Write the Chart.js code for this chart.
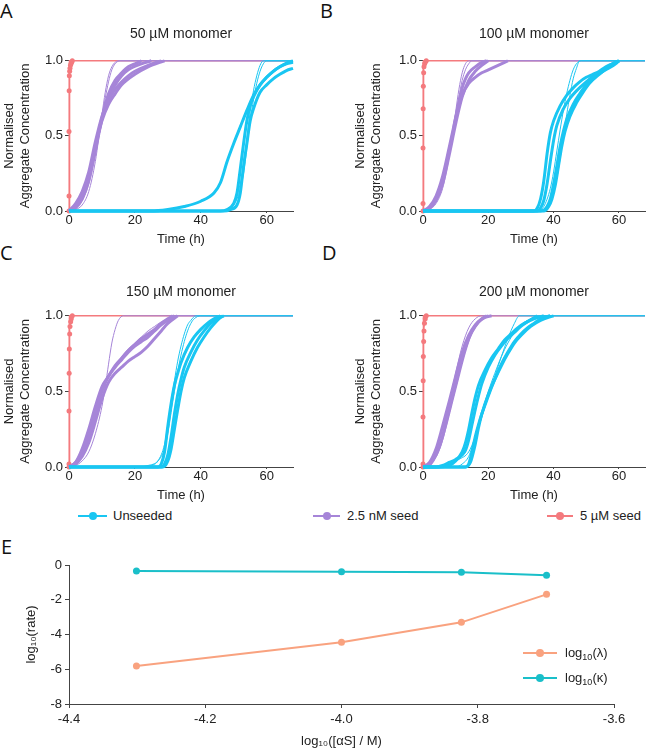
<!DOCTYPE html>
<html><head><meta charset="utf-8">
<script src="https://cdn.jsdelivr.net/npm/chart.js@4.4.0/dist/chart.umd.min.js"></script>
<style>
body{margin:0;background:#fff;width:649px;height:749px;position:relative;overflow:hidden;font-family:"Liberation Sans",Arial,sans-serif;color:#222;}
.pc{position:absolute;}
.lt{position:absolute;font-family:"Open Sans",sans-serif;font-size:20px;line-height:20px;color:#111;}
.ln{position:absolute;height:2px;}
.dt{position:absolute;width:8px;height:8px;border-radius:50%;}
.tx{position:absolute;font-size:13px;line-height:16px;white-space:nowrap;color:#222;}
.tx sub{font-size:9px;line-height:0;vertical-align:-3px;}
</style></head><body>
<div class="lt" style="left:0;top:1px">A</div>
<div class="lt" style="left:320px;top:1px">B</div>
<div class="lt" style="left:0;top:243px">C</div>
<div class="lt" style="left:322px;top:243px">D</div>
<div class="lt" style="left:1px;top:537px">E</div>

<div class="pc" style="left:0;top:20px;width:320px;height:230px"><canvas id="cA"></canvas></div>
<div class="pc" style="left:350px;top:20px;width:299px;height:230px"><canvas id="cB"></canvas></div>
<div class="pc" style="left:0;top:278px;width:320px;height:228px"><canvas id="cC"></canvas></div>
<div class="pc" style="left:350px;top:278px;width:299px;height:228px"><canvas id="cD"></canvas></div>
<div class="pc" style="left:0;top:550px;width:649px;height:199px"><canvas id="cE"></canvas></div>

<div class="ln" style="left:78px;top:515px;width:29px;background:#19c6f2"></div>
<div class="dt" style="left:89px;top:512px;background:#19c6f2"></div>
<div class="tx" style="left:113px;top:508px">Unseeded</div>
<div class="ln" style="left:313px;top:515px;width:27px;background:#a685d8"></div>
<div class="dt" style="left:323px;top:512px;background:#a685d8"></div>
<div class="tx" style="left:347px;top:508px">2.5 nM seed</div>
<div class="ln" style="left:547px;top:515px;width:26px;background:#f47a7e"></div>
<div class="dt" style="left:556px;top:512px;background:#f47a7e"></div>
<div class="tx" style="left:580px;top:508px">5 µM seed</div>

<div class="ln" style="left:523px;top:652px;width:34px;background:#f9a27f"></div>
<div class="dt" style="left:536px;top:649px;background:#f9a27f"></div>
<div class="tx" style="left:565px;top:645px">log<sub>10</sub>(λ)</div>
<div class="ln" style="left:523px;top:677px;width:34px;background:#1abfc9"></div>
<div class="dt" style="left:536px;top:674px;background:#1abfc9"></div>
<div class="tx" style="left:565px;top:670px">log<sub>10</sub>(κ)</div>

<script>
// ---------- tick labels ----------
const timeTicks = [0, 20, 40, 60];
const timeTickLabels = ['0', '20', '40', '60'];
const concTicks = [0, 0.5, 1];
const concTickLabels = ['0.0', '0.5', '1.0'];
const panelTitles = ['50 µM monomer', '100 µM monomer', '150 µM monomer', '200 µM monomer'];

// ---------- Panel A: 50 µM ----------
const A_pink = [[0,0],[0,0.1],[0,0.53],[0.05,0.8],[0.1,0.9],[0.2,0.93],[0.3,0.95],[0.45,0.97],[0.6,0.98],[0.8,0.99],[1,1]];
const A_pinkFit = [[0,0],[0.15,1],[68,1]];
const A_purple1 = [[0,0],[2,0.03],[4,0.1],[6,0.22],[8,0.42],[10,0.62],[12,0.78],[14,0.87],[16,0.92],[18,0.96],[20,0.98],[22,1]];
const A_purple2 = [[0,0],[2,0.05],[4,0.13],[6,0.26],[8,0.46],[10,0.63],[12,0.74],[14,0.81],[16,0.86],[18,0.9],[20,0.93],[24,0.97],[28,1]];
const A_purple3 = [[0,0],[2,0.04],[4,0.11],[6,0.23],[8,0.43],[10,0.6],[12,0.71],[14,0.78],[16,0.84],[20,0.91],[24,0.96],[29,1]];
const A_purple4 = [[0,0],[2,0.02],[4,0.08],[6,0.2],[8,0.4],[10,0.61],[12,0.76],[14,0.84],[16,0.9],[18,0.94],[22,0.98],[25,1]];
const A_purpleFit1 = [[0,0],[2,0.01],[4,0.04],[6,0.13],[8,0.33],[9,0.48],[10,0.64],[11,0.79],[12,0.9],[13,0.96],[14,0.99],[15,1],[68,1]];
const A_purpleFit2 = [[0,0],[2,0.02],[4,0.07],[6,0.18],[8,0.38],[10,0.62],[11,0.75],[12,0.86],[13,0.94],[14,0.98],[15.5,1],[68,1]];
const A_cyan1 = [[0,0],[25,0],[30,0.01],[35,0.03],[40,0.065],[44,0.12],[46,0.19],[48,0.33],[50,0.45],[52,0.56],[54,0.67],[56,0.77],[58,0.84],[60,0.89],[62,0.93],[64,0.96],[66,0.985],[68,1]];
const A_cyan2 = [[0,0],[46,0],[48,0.01],[50,0.05],[51,0.12],[52,0.28],[53,0.45],[54,0.6],[55,0.7],[56,0.76],[58,0.84],[60,0.89],[62,0.93],[64,0.96],[66,0.98],[68,0.99]];
const A_cyan3 = [[0,0],[47,0],[49,0.01],[51,0.04],[52,0.12],[53,0.3],[54,0.45],[55,0.6],[56,0.68],[58,0.79],[60,0.84],[62,0.88],[64,0.91],[66,0.935],[68,0.95]];
const A_cyanFit1 = [[0,0],[46,0],[49,0.03],[51,0.1],[53,0.3],[54,0.48],[55,0.66],[56,0.8],[57,0.9],[58,0.97],[59,1],[68,1]];
const A_cyanFit2 = [[0,0],[46,0],[49,0.02],[51,0.08],[53,0.25],[54,0.42],[55,0.6],[56,0.74],[57,0.85],[58,0.93],[59,0.98],[60,1],[68,1]];

// ---------- Panel B: 100 µM ----------
const B_pink = [[0,0],[0,0.05],[0,0.42],[0.05,0.68],[0.1,0.83],[0.2,0.92],[0.3,0.96],[0.5,0.98],[0.7,0.99],[1,1]];
const B_pinkFit = [[0,0],[0.15,1],[68,1]];
const B_purple1 = [[0,0],[2,0.02],[4,0.08],[6,0.2],[8,0.4],[9,0.5],[10,0.62],[12,0.82],[13,0.88],[14,0.92],[16,0.96],[18,0.99],[19.5,1]];
const B_purple2 = [[0,0],[2,0.03],[4,0.1],[6,0.23],[8,0.42],[9,0.52],[10,0.62],[12,0.77],[14,0.85],[16,0.89],[18,0.92],[20,0.94],[22,0.96],[24,0.98],[26,1]];
const B_purple3 = [[0,0],[2,0.02],[4,0.07],[6,0.18],[8,0.37],[10,0.58],[12,0.76],[14,0.87],[16,0.93],[18,0.97],[20,1]];
const B_purpleFit1 = [[0,0],[2,0.01],[4,0.05],[6,0.15],[8,0.36],[9,0.5],[10,0.66],[11,0.81],[12,0.92],[13,0.98],[14,1],[68,1]];
const B_purpleFit2 = [[0,0],[2,0.02],[4,0.07],[6,0.19],[8,0.4],[10,0.64],[11,0.76],[12,0.87],[13,0.94],[14,0.98],[15,1],[68,1]];
const B_cyan1 = [[0,0],[34,0],[35,0.02],[36,0.08],[37,0.2],[38,0.38],[39,0.52],[40,0.6],[42,0.7],[44,0.77],[46,0.82],[48,0.86],[50,0.89],[52,0.91],[54,0.93],[56,0.96],[58,0.98],[60,1]];
const B_cyan2 = [[0,0],[35,0],[36,0.02],[37,0.07],[38,0.18],[39,0.33],[40,0.47],[41,0.57],[43,0.68],[45,0.75],[47,0.8],[50,0.86],[53,0.91],[56,0.95],[58,0.98],[60,1]];
const B_cyan3 = [[0,0],[36,0],[38,0.03],[39,0.08],[40,0.18],[41,0.3],[42,0.43],[43,0.53],[44,0.61],[46,0.71],[48,0.78],[50,0.84],[53,0.9],[56,0.94],[59,0.98],[60,1]];
const B_cyan4 = [[0,0],[37,0],[38.5,0.03],[39.5,0.08],[40.5,0.17],[41.5,0.3],[42.5,0.43],[43.5,0.53],[45,0.63],[47,0.72],[49,0.79],[51,0.85],[54,0.91],[57,0.96],[60,1]];
const B_cyanFit1 = [[0,0],[36,0],[38,0.03],[40,0.13],[41,0.22],[42,0.35],[43,0.5],[44,0.64],[45,0.77],[46,0.88],[47,0.95],[48,1],[68,1]];
const B_cyanFit2 = [[0,0],[35,0],[37,0.03],[39,0.15],[40,0.26],[41,0.4],[42,0.54],[43,0.67],[44,0.78],[45,0.87],[46,0.94],[47,0.98],[48.5,1],[68,1]];

// ---------- Panel C: 150 µM ----------
const C_pink = [[0,0],[0,0.02],[0,0.37],[0.05,0.62],[0.1,0.78],[0.2,0.88],[0.3,0.93],[0.5,0.96],[0.7,0.98],[1,1]];
const C_pinkFit = [[0,0],[0.15,1],[68,1]];
const C_purple1 = [[0,0],[2,0.03],[4,0.1],[6,0.2],[8,0.35],[10,0.5],[12,0.6],[14,0.66],[16,0.71],[18,0.76],[20,0.8],[22,0.83],[24,0.86],[26,0.9],[28,0.94],[30,0.97],[32,1]];
const C_purple2 = [[0,0],[2,0.02],[4,0.07],[6,0.16],[8,0.3],[10,0.45],[12,0.56],[14,0.62],[16,0.66],[18,0.7],[20,0.73],[22,0.76],[24,0.8],[26,0.85],[28,0.9],[30,0.95],[33,1]];
const C_purple3 = [[0,0],[2,0.03],[4,0.12],[6,0.25],[8,0.4],[10,0.53],[12,0.6],[14,0.67],[16,0.72],[18,0.77],[20,0.81],[22,0.85],[24,0.88],[26,0.91],[28,0.95],[30,0.98],[31.5,1]];
const C_purpleFit1 = [[0,0],[2,0.01],[4,0.04],[6,0.1],[8,0.22],[10,0.4],[11,0.53],[12,0.68],[13,0.82],[14,0.91],[15,0.97],[16.5,1],[68,1]];
const C_purpleFit2 = [[0,0],[2,0.02],[4,0.08],[6,0.2],[8,0.36],[10,0.5],[12,0.6],[14,0.67],[16,0.73],[18,0.78],[20,0.82],[22,0.86],[24,0.9],[26,0.93],[28,0.96],[30,0.98],[32,1],[68,1]];
const C_cyan1 = [[0,0],[27,0],[28,0.02],[29,0.1],[30,0.27],[31,0.42],[32,0.54],[33,0.62],[34,0.69],[36,0.79],[38,0.86],[40,0.91],[42,0.95],[44,0.98],[46,1]];
const C_cyan2 = [[0,0],[28,0],[29,0.02],[30,0.08],[31,0.2],[32,0.35],[33,0.48],[34,0.58],[35,0.66],[37,0.76],[39,0.84],[41,0.9],[43,0.95],[45,0.98],[47,1]];
const C_cyan3 = [[0,0],[28.5,0],[30,0.04],[31,0.12],[32,0.25],[33,0.38],[34,0.5],[35,0.59],[37,0.7],[39,0.79],[41,0.86],[43,0.92],[45,0.97],[46.5,1]];
const C_cyanFit1 = [[0,0],[22,0],[25,0.01],[27,0.04],[29,0.15],[30,0.28],[31,0.43],[32,0.57],[33,0.7],[34,0.8],[35,0.88],[36,0.94],[37,0.97],[38.5,1],[68,1]];
const C_cyanFit2 = [[0,0],[20,0],[24,0.01],[27,0.04],[29,0.12],[30,0.22],[31,0.36],[32,0.5],[33,0.63],[34,0.74],[35,0.83],[36,0.9],[37,0.95],[38,0.98],[40,1],[68,1]];

// ---------- Panel D: 200 µM ----------
const D_pink = [[0,0],[0,0.02],[0,0.33],[0.05,0.57],[0.1,0.73],[0.2,0.83],[0.3,0.9],[0.45,0.95],[0.7,0.98],[1,1]];
const D_pinkFit = [[0,0],[0.15,1],[68,1]];
const D_purple1 = [[0,0],[2,0.02],[4,0.08],[6,0.2],[8,0.38],[10,0.55],[12,0.72],[14,0.85],[16,0.93],[18,0.98],[20,1]];
const D_purple2 = [[0,0],[2,0.03],[4,0.12],[6,0.27],[8,0.43],[10,0.6],[12,0.76],[14,0.87],[16,0.94],[18,0.98],[19.5,1]];
const D_purple3 = [[0,0],[1,0],[3,0.04],[5,0.13],[7,0.28],[9,0.45],[11,0.62],[13,0.78],[15,0.9],[17,0.96],[19,0.99],[21,1]];
const D_purpleFit1 = [[0,0],[2,0.02],[4,0.08],[6,0.22],[8,0.42],[10,0.62],[12,0.8],[14,0.92],[16,0.98],[18,1],[68,1]];
const D_cyan1 = [[0,0],[4,0],[6,0.01],[8,0.03],[10,0.05],[12,0.08],[13,0.11],[14,0.18],[15,0.28],[16,0.38],[17,0.47],[18,0.55],[20,0.66],[22,0.74],[24,0.8],[26,0.85],[28,0.89],[30,0.93],[32,0.96],[35,1]];
const D_cyan2 = [[0,0],[5,0],[8,0.01],[10,0.04],[12,0.1],[13,0.16],[14,0.25],[15,0.36],[16,0.46],[17,0.54],[19,0.64],[21,0.72],[23,0.78],[25,0.84],[27,0.88],[29,0.92],[31,0.95],[34,0.98],[37,1]];
const D_cyan3 = [[0,0],[13,0],[14,0.02],[15,0.1],[16,0.2],[17,0.28],[18,0.35],[19,0.41],[20,0.47],[22,0.58],[24,0.68],[26,0.76],[28,0.83],[30,0.88],[32,0.92],[34,0.95],[36,0.98],[39,1]];
const D_cyan4 = [[0,0],[13,0],[14.5,0.03],[16,0.15],[17,0.26],[18,0.35],[20,0.48],[22,0.58],[24,0.67],[26,0.75],[28,0.82],[30,0.87],[33,0.93],[36,0.97],[40,1]];
const D_cyanFit1 = [[0,0],[5,0],[8,0.02],[11,0.05],[14,0.1],[16,0.2],[18,0.33],[20,0.47],[22,0.6],[24,0.73],[26,0.85],[28,0.95],[29.5,1],[68,1]];
const D_cyanFit2 = [[0,0],[10,0],[12,0.02],[14,0.07],[16,0.2],[18,0.36],[20,0.5],[22,0.62],[24,0.73],[26,0.82],[28,0.89],[30,0.94],[32,0.97],[34,0.99],[36,1],[68,1]];

// ---------- Panel E ----------
const logConc = [-4.301, -4.0, -3.824, -3.699];
const logLambda = [-5.81, -4.45, -3.30, -1.69];
const logKappa = [-0.35, -0.39, -0.42, -0.59];
const eXTicks = [-4.4, -4.2, -4.0, -3.8, -3.6];
const eXTickLabels = ['-4.4', '-4.2', '-4.0', '-3.8', '-3.6'];
const eYTicks = [0, -2, -4, -6, -8];
const eYTickLabels = ['0', '-2', '-4', '-6', '-8'];

// ---------- styling ----------
const CYAN = '#19c6f2', PURPLE = '#a685d8', PINK = '#f47a7e', ORANGE = '#f9a27f', TEAL = '#1abfc9';
const AXIS = '#444', TXT = '#222';
Chart.defaults.font.family = '"Liberation Sans", Arial, sans-serif';
Chart.defaults.color = TXT;

const toXY = arr => arr.map(p => ({x: p[0], y: p[1]}));
function curve(arr, color, width, order) {
  return {data: toXY(arr), borderColor: color, backgroundColor: color, borderWidth: width,
    pointRadius: 0, cubicInterpolationMode: 'monotone', order: order, clip: 6};
}

function panel(id, title, pink, pinkFit, purples, purpleFits, cyans, cyanFits, yW, yTitlePad, titlePad) {
  const ds = [];
  cyans.forEach(c => ds.push(curve(c, CYAN, 3, 1)));
  cyanFits.forEach(c => ds.push(curve(c, CYAN, 1, 1)));
  purples.forEach(c => ds.push(curve(c, PURPLE, 3, 2)));
  purpleFits.forEach(c => ds.push(curve(c, PURPLE, 1, 2)));
  ds.push({data: toXY(pinkFit), borderColor: PINK, borderWidth: 1.5, pointRadius: 0, tension: 0, order: 3, clip: 6});
  ds.push({data: toXY(pink), borderColor: PINK, backgroundColor: PINK, borderWidth: 1.5, pointRadius: 2.5,
    pointBorderWidth: 0, tension: 0, order: 3, clip: 6});
  new Chart(document.getElementById(id), {
    type: 'line',
    data: {datasets: ds},
    options: {
      responsive: true, maintainAspectRatio: false, animation: false,
      layout: {padding: {left: 0, right: yW === 69 ? 27 : 1, top: 0, bottom: 0}},
      plugins: {legend: {display: false}, tooltip: {enabled: false},
        title: {display: true, text: title, fullSize: false, font: {size: 14, weight: 'normal'}, color: TXT,
          padding: titlePad}},
      scales: {
        x: {type: 'linear', min: 0, max: 68,
          afterBuildTicks: s => { s.ticks = timeTicks.map(v => ({value: v})); },
          ticks: {callback: (v, i) => timeTickLabels[i], font: {size: 13}, color: TXT, padding: 0, maxRotation: 0},
          grid: {drawOnChartArea: false, tickLength: 2, color: AXIS},
          border: {color: AXIS, width: 1},
          title: {display: true, text: 'Time (h)', font: {size: 13}, color: TXT, padding: {top: 0, bottom: 3}},
          afterFit: s => { s.height = 39; }},
        y: {type: 'linear', min: 0, max: 1,
          afterBuildTicks: s => { s.ticks = concTicks.map(v => ({value: v})); },
          ticks: {callback: (v, i) => concTickLabels[i], font: {size: 13}, color: TXT, padding: 2},
          grid: {drawOnChartArea: false, tickLength: 4, color: AXIS},
          border: {color: AXIS, width: 1},
          title: {display: true, text: ['Normalised', 'Aggregate Concentration'], font: {size: 13}, color: TXT,
            padding: {top: yTitlePad, bottom: 0}},
          afterFit: s => { s.width = yW; }}
      }
    }
  });
}

panel('cA', panelTitles[0], A_pink, A_pinkFit, [A_purple1, A_purple2, A_purple3, A_purple4], [A_purpleFit1, A_purpleFit2],
  [A_cyan1, A_cyan2, A_cyan3], [A_cyanFit1, A_cyanFit2], 69, 2, {top: 6, bottom: 18});
panel('cB', panelTitles[1], B_pink, B_pinkFit, [B_purple1, B_purple2, B_purple3], [B_purpleFit1, B_purpleFit2],
  [B_cyan1, B_cyan2, B_cyan3, B_cyan4], [B_cyanFit1, B_cyanFit2], 73, 3, {top: 6, bottom: 18});
panel('cC', panelTitles[2], C_pink, C_pinkFit, [C_purple1, C_purple2, C_purple3], [C_purpleFit1, C_purpleFit2],
  [C_cyan1, C_cyan2, C_cyan3], [C_cyanFit1, C_cyanFit2], 69, 2, {top: 6, bottom: 15});
panel('cD', panelTitles[3], D_pink, D_pinkFit, [D_purple1, D_purple2, D_purple3], [D_purpleFit1],
  [D_cyan1, D_cyan2, D_cyan3, D_cyan4], [D_cyanFit1, D_cyanFit2], 73, 3, {top: 6, bottom: 15});

new Chart(document.getElementById('cE'), {
  type: 'line',
  data: {datasets: [
    {label: 'log₁₀(λ)', data: logConc.map((x, i) => ({x, y: logLambda[i]})), borderColor: ORANGE, backgroundColor: ORANGE,
      borderWidth: 2, pointRadius: 3.5, pointBorderWidth: 0, tension: 0},
    {label: 'log₁₀(κ)', data: logConc.map((x, i) => ({x, y: logKappa[i]})), borderColor: TEAL, backgroundColor: TEAL,
      borderWidth: 2, pointRadius: 3.5, pointBorderWidth: 0, tension: 0}
  ]},
  options: {
    responsive: true, maintainAspectRatio: false, animation: false,
    layout: {padding: {left: 0, right: 35, top: 15, bottom: 0}},
    plugins: {legend: {display: false}, tooltip: {enabled: false}},
    scales: {
      x: {type: 'linear', min: -4.4, max: -3.6,
        afterBuildTicks: s => { s.ticks = eXTicks.map(v => ({value: v})); },
        ticks: {callback: (v, i) => eXTickLabels[i], font: {size: 13}, color: TXT, padding: 4, maxRotation: 0},
        grid: {drawOnChartArea: false, tickLength: 4, color: AXIS},
        border: {color: AXIS, width: 1},
        title: {display: true, text: 'log₁₀([αS] / M)', font: {size: 13}, color: TXT, padding: {top: 0, bottom: 0}},
        afterFit: s => { s.height = 45; }},
      y: {type: 'linear', min: -8, max: 0,
        afterBuildTicks: s => { s.ticks = eYTicks.map(v => ({value: v})); },
        ticks: {callback: (v, i) => eYTickLabels[i], font: {size: 13}, color: TXT, padding: 3},
        grid: {drawOnChartArea: false, tickLength: 4, color: AXIS},
        border: {color: AXIS, width: 1},
        title: {display: true, text: 'log₁₀(rate)', font: {size: 13}, color: TXT, padding: {top: 24, bottom: 0}},
        afterFit: s => { s.width = 69; }}
    }
  }
});
</script>
</body></html>
